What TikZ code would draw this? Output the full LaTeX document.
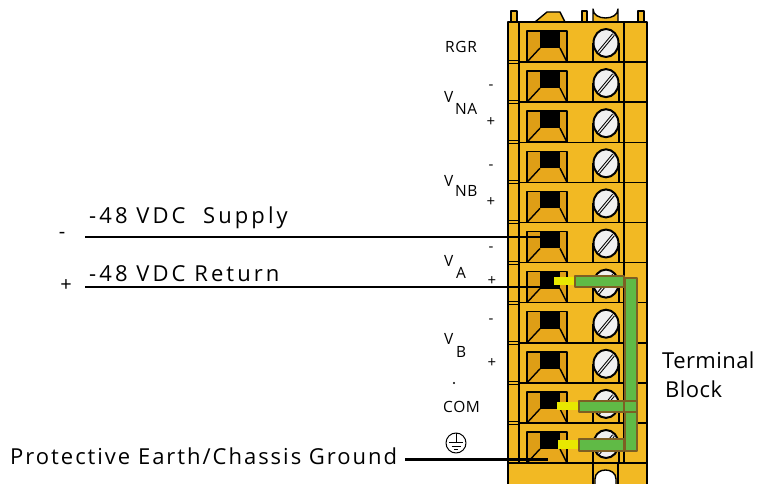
\documentclass[tikz,border=0pt]{standalone}
\usepackage{fontspec}
\setmainfont{Open Sans}
\newfontfamily\spaced[LetterSpace=9]{Open Sans}
\newfontfamily\spacedw[LetterSpace=14]{Open Sans}
\newfontfamily\spacedb[LetterSpace=2]{Open Sans}
\newfontfamily\spaceds[LetterSpace=4]{Open Sans}
\definecolor{tb}{RGB}{242,185,35}
\definecolor{tbd}{RGB}{222,158,22}
\definecolor{tbf}{RGB}{232,168,28}
\definecolor{jg}{RGB}{96,186,70}
\definecolor{jb}{RGB}{125,95,35}
\definecolor{jy}{RGB}{232,232,0}
\definecolor{sw}{RGB}{240,240,240}
\tikzset{
  big/.style={inner sep=0pt, anchor=base west, font=\spaced\fontsize{22}{26}\selectfont},
  bigw/.style={inner sep=0pt, anchor=base west, font=\spacedw\fontsize{22}{26}\selectfont},
  bigb/.style={inner sep=0pt, anchor=base west, font=\spacedb\fontsize{22}{26}\selectfont},
  small/.style={inner sep=0pt, anchor=base west, font=\spaceds\fontsize{15.5}{18}\selectfont},
  sign/.style={inner sep=0pt, font=\fontsize{15}{18}\selectfont},
  outl/.style={draw=black, line width=1.4},
  wire/.style={draw=black, line width=2.2},
  jump/.style={fill=jg, draw=jb, line width=2},
  tip/.style={fill=jy},
}
\begin{document}
\begin{tikzpicture}[x=1pt,y=-1pt,line join=round]
\useasboundingbox (0,0) rectangle (764,484);
% ---- block body
\fill[tb] (508,22) rectangle (647,484);
% top features
\filldraw[fill=tb,outl] (511,11) rectangle (517,22);
\filldraw[fill=tb,outl] (582,11) rectangle (587,22);
\filldraw[fill=tb,outl] (638,11) rectangle (644,22);
\filldraw[fill=tb,outl] (535,22)--(547,12)--(560,12)--(565,22);
\filldraw[fill=tb,outl] (593,22)--(593,9) .. controls (593,21) and (618,21) .. (618,9)--(618,22);
% rows
\foreach \i in {0,...,10}{
  \pgfmathsetmacro{\t}{22+40.1*\i}
  % terminal opening
  \fill[tbd] (527,\t+9) rectangle (567,\t+40);
  \fill[tbf] (540,\t+26)--(560,\t+26)--(567,\t+40)--(527,\t+40)--cycle;
  \fill[black] (540,\t+9) rectangle (560,\t+26);
  \draw[outl] (540,\t+26)--(527,\t+40) (560,\t+26)--(567,\t+40);
  \draw[outl] (527,\t+9) rectangle (567,\t+40);
  % screw tower
  \draw[outl] (593,\t+21)--(593,\t+40) (619,\t+21)--(619,\t+40);
  \filldraw[fill=sw,draw=black,line width=2] (606,\t+21) ellipse[x radius=12.5, y radius=14];
  \draw[black,line width=3.2] (598.5,\t+30.5)--(613.5,\t+12.5);
  \draw[sw,line width=1.2] (598.5,\t+30.5)--(613.5,\t+12.5);
}
% row boundaries
\foreach \i in {1,...,10}{
  \pgfmathsetmacro{\b}{22+40.1*\i}
  \draw[outl] (519,\b)--(647,\b);
  \filldraw[fill=tb,outl,line width=1] (508,\b-1.5) rectangle (519,\b+1.5);
}
% base
\draw[outl] (508,463)--(647,463);
\draw[outl] (593,463)--(593,484) (618,463)--(618,484);
\filldraw[fill=white,outl] (595,484)--(595,479) .. controls (595,467) and (616,467) .. (616,479)--(616,484);
% outline
\draw[outl,line width=1.6] (508,484)--(508,22)--(647,22)--(647,484);
\draw[outl] (519,22)--(519,463);
\draw[outl] (624,22)--(624,463);
% ---- wires
\coordinate (sa) at (85,237);
\coordinate (sb) at (540,237);
\coordinate (ra) at (85,287);
\coordinate (rb) at (545,287);
\coordinate (ea) at (405,459);
\coordinate (eb) at (548,459);
\draw[wire] (sa)--(sb);
\draw[wire] (ra)--(rb);
\draw[wire,line width=3] (ea)--(eb);
% ---- jumpers
\fill[tip] (554,277) rectangle (575,285);
\fill[tip] (557,402) rectangle (579,410);
\fill[tip] (558,440) rectangle (579,449);
\filldraw[jump] (625,278) rectangle (637,451);
\filldraw[jump] (575,276) rectangle (624,287);
\filldraw[jump] (579,401) rectangle (624,412);
\filldraw[jump] (624,401) rectangle (637,412);
\filldraw[jump] (579,439) rectangle (624,451);
% ---- labels
\node[bigw] (lsup) at (89,224) {-48 VDC\ \ Supply};
\node[bigw] (lret) at (89,281) {-48 VDC Return};
\node[sign,font=\fontsize{20}{22}\selectfont] (mneg) at (62,235) {-};
\node[sign,font=\fontsize{20}{22}\selectfont] (mpos) at (66,286) {+};
\node[big] (lpe) at (10,464) {Protective Earth/Chassis Ground};
\node[bigb] (lterm) at (662,368) {Terminal};
\node[bigb] (lblock) at (665,397) {Block};
\node[small] (rgr) at (445,53) {RGR};
\node[small] (vna) at (444,103) {V};
\node[small] (vnas) at (455,115) {NA};
\node[small] (vnb) at (444,187) {V};
\node[small] (vnbs) at (455,197) {NB};
\node[small] (va) at (444,266) {V};
\node[small] (vas) at (456,278) {A};
\node[small] (vb) at (444,344) {V};
\node[small] (vbs) at (456,357) {B};
\node[small] (com) at (443,412) {COM};
\node[sign] (na1) at (491,87) {-};
\node[sign] (na2) at (491,122) {+};
\node[sign] (nb1) at (491,167) {-};
\node[sign] (nb2) at (491,202) {+};
\node[sign] (a1) at (491,249) {-};
\node[sign] (a2) at (492,281) {+};
\node[sign] (b1) at (491,321) {-};
\node[sign] (b2) at (492,363) {+};
\fill (454,383) circle (1.2);
% earth symbol
\node[circle,draw=black,line width=1,minimum size=20pt,inner sep=0pt] (gnd) at (456,443) {};
\draw[line width=1] (gnd.north)--(456,442);
\draw[line width=1] (449,442)--(463,442) (451.5,446)--(460.5,446) (454,449.5)--(458,449.5);
\end{tikzpicture}
\end{document}
